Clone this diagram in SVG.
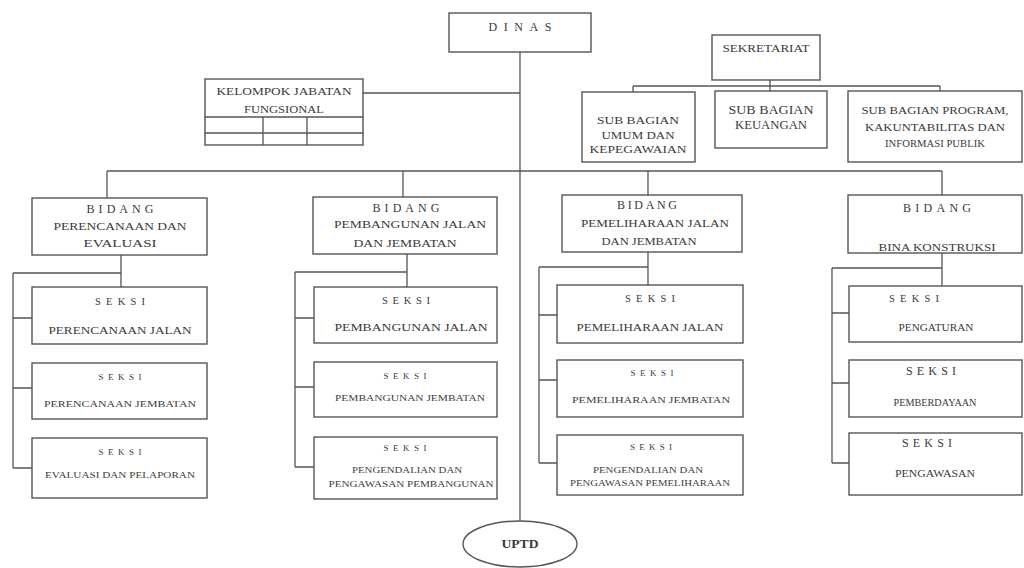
<svg xmlns="http://www.w3.org/2000/svg" width="1024" height="568" viewBox="0 0 1024 568">
<style>
.bx{fill:#fff;stroke:#555;stroke-width:1.4}
.ln{fill:none;stroke:#555;stroke-width:1.3}
text{font-family:"Liberation Serif","Times New Roman",serif;fill:#3a3a3a;text-anchor:middle;font-size:10.5px}
.h{font-size:12px}
.s{font-size:9px}
.b{font-weight:bold;font-size:12px}
</style>
<rect width="1024" height="568" fill="#fff"/>
<g id="connectors">
<path class="ln" d="M520 52V521M363 93H520"/>
<path class="ln" d="M770 80V86M633 86H940M633 86V92M770 86V91M940 86V91"/>
<path class="ln" d="M107 171H942M107 171V198M403 171V197M648 171V195M942 171V195"/>
<path class="ln" d="M121 255V287M13 273H121M13 273V468M13 318H32M13 388H32M13 468H32"/>
<path class="ln" d="M407 254V287M295 272H407M295 272V467M295 318H314M295 387H314M295 467H314"/>
<path class="ln" d="M648 252V285M539 267H648M539 267V463M539 315H557M539 380H557M539 463H557"/>
<path class="ln" d="M942 253V286M832 268H942M832 268V463M832 313H849M832 383H849M832 463H849"/>
</g>
<g id="dinas"><rect class="bx" x="449" y="13" width="142" height="39"/><text class="h" x="520" y="31" textLength="63" lengthAdjust="spacing">DINAS</text></g>
<g id="kelompok"><rect class="bx" x="205" y="79" width="158" height="66"/><path class="ln" d="M205 117H363M205 133H363M263 117V145M307 117V145"/>
<text x="284" y="95" textLength="135" lengthAdjust="spacingAndGlyphs">KELOMPOK JABATAN</text><text x="284" y="113" textLength="80" lengthAdjust="spacingAndGlyphs">FUNGSIONAL</text></g>
<g id="sekretariat"><rect class="bx" x="712" y="35" width="108" height="45"/><text x="766" y="52" textLength="87" lengthAdjust="spacingAndGlyphs">SEKRETARIAT</text></g>
<g id="sub-umum"><rect class="bx" x="582" y="92" width="113" height="70"/><text x="638" y="124" textLength="82" lengthAdjust="spacingAndGlyphs">SUB BAGIAN</text><text x="638" y="139" textLength="73" lengthAdjust="spacingAndGlyphs">UMUM DAN</text><text x="638" y="153" textLength="97" lengthAdjust="spacingAndGlyphs">KEPEGAWAIAN</text></g>
<g id="sub-keuangan"><rect class="bx" x="715" y="91" width="112" height="57"/><text class="h" x="771" y="114" textLength="85" lengthAdjust="spacingAndGlyphs">SUB BAGIAN</text><text class="h" x="771" y="129" textLength="72" lengthAdjust="spacingAndGlyphs">KEUANGAN</text></g>
<g id="sub-program"><rect class="bx" x="848" y="91" width="174" height="71"/><text x="935" y="114" textLength="147" lengthAdjust="spacingAndGlyphs">SUB BAGIAN PROGRAM,</text><text x="935" y="131" textLength="140" lengthAdjust="spacingAndGlyphs">KAKUNTABILITAS DAN</text><text x="935" y="147" textLength="100" lengthAdjust="spacingAndGlyphs">INFORMASI PUBLIK</text></g>
<g id="bidang-1"><rect class="bx" x="32" y="198" width="175" height="57"/><text class="h" x="120" y="213" textLength="67" lengthAdjust="spacing">BIDANG</text><text x="120" y="230" textLength="133" lengthAdjust="spacingAndGlyphs">PERENCANAAN DAN</text><text x="120" y="247" textLength="73" lengthAdjust="spacingAndGlyphs">EVALUASI</text></g>
<g id="seksi-1-1"><rect class="bx" x="32" y="287" width="175" height="57"/><text x="120" y="305" textLength="50" lengthAdjust="spacing">SEKSI</text><text x="120" y="334" textLength="143" lengthAdjust="spacingAndGlyphs">PERENCANAAN JALAN</text></g>
<g id="seksi-1-2"><rect class="bx" x="32" y="363" width="175" height="56"/><text class="s" x="120" y="380" textLength="43" lengthAdjust="spacing">SEKSI</text><text class="s" x="120" y="407" textLength="152" lengthAdjust="spacingAndGlyphs">PERENCANAAN JEMBATAN</text></g>
<g id="seksi-1-3"><rect class="bx" x="32" y="438" width="175" height="60"/><text class="s" x="120" y="455" textLength="43" lengthAdjust="spacing">SEKSI</text><text class="s" x="120" y="478" textLength="150" lengthAdjust="spacingAndGlyphs">EVALUASI DAN PELAPORAN</text></g>
<g id="bidang-2"><rect class="bx" x="313" y="197" width="184" height="57"/><text class="h" x="406" y="212" textLength="67" lengthAdjust="spacing">BIDANG</text><text x="410" y="228" textLength="152" lengthAdjust="spacingAndGlyphs">PEMBANGUNAN JALAN</text><text x="405" y="247" textLength="103" lengthAdjust="spacingAndGlyphs">DAN JEMBATAN</text></g>
<g id="seksi-2-1"><rect class="bx" x="314" y="287" width="183" height="56"/><text x="406" y="304" textLength="48" lengthAdjust="spacing">SEKSI</text><text x="411" y="331" textLength="153" lengthAdjust="spacingAndGlyphs">PEMBANGUNAN JALAN</text></g>
<g id="seksi-2-2"><rect class="bx" x="314" y="362" width="183" height="55"/><text class="s" x="405" y="379" textLength="43" lengthAdjust="spacing">SEKSI</text><text class="s" x="410" y="401" textLength="150" lengthAdjust="spacingAndGlyphs">PEMBANGUNAN JEMBATAN</text></g>
<g id="seksi-2-3"><rect class="bx" x="314" y="437" width="183" height="62"/><text class="s" x="405" y="451" textLength="43" lengthAdjust="spacing">SEKSI</text><text class="s" x="407" y="473" textLength="110" lengthAdjust="spacingAndGlyphs">PENGENDALIAN DAN</text><text class="s" x="411" y="487" textLength="165" lengthAdjust="spacingAndGlyphs">PENGAWASAN PEMBANGUNAN</text></g>
<g id="bidang-3"><rect class="bx" x="562" y="195" width="180" height="57"/><text class="h" x="647" y="209" textLength="60" lengthAdjust="spacing">BIDANG</text><text x="655" y="227" textLength="148" lengthAdjust="spacingAndGlyphs">PEMELIHARAAN JALAN</text><text x="649" y="245" textLength="95" lengthAdjust="spacingAndGlyphs">DAN JEMBATAN</text></g>
<g id="seksi-3-1"><rect class="bx" x="557" y="285" width="186" height="58"/><text x="650" y="302" textLength="50" lengthAdjust="spacing">SEKSI</text><text x="650" y="331" textLength="147" lengthAdjust="spacingAndGlyphs">PEMELIHARAAN JALAN</text></g>
<g id="seksi-3-2"><rect class="bx" x="557" y="360" width="186" height="57"/><text class="s" x="652" y="376" textLength="43" lengthAdjust="spacing">SEKSI</text><text class="s" x="651" y="403" textLength="158" lengthAdjust="spacingAndGlyphs">PEMELIHARAAN JEMBATAN</text></g>
<g id="seksi-3-3"><rect class="bx" x="557" y="435" width="186" height="60"/><text class="s" x="651" y="450" textLength="42" lengthAdjust="spacing">SEKSI</text><text class="s" x="648" y="473" textLength="110" lengthAdjust="spacingAndGlyphs">PENGENDALIAN DAN</text><text class="s" x="650" y="486" textLength="160" lengthAdjust="spacingAndGlyphs">PENGAWASAN PEMELIHARAAN</text></g>
<g id="bidang-4"><rect class="bx" x="848" y="195" width="174" height="58"/><text class="h" x="937" y="212" textLength="68" lengthAdjust="spacing">BIDANG</text><text x="937" y="251" textLength="117" lengthAdjust="spacingAndGlyphs">BINA KONSTRUKSI</text></g>
<g id="seksi-4-1"><rect class="bx" x="849" y="286" width="173" height="56"/><text x="914" y="302" textLength="50" lengthAdjust="spacing">SEKSI</text><text x="936" y="331" textLength="75" lengthAdjust="spacingAndGlyphs">PENGATURAN</text></g>
<g id="seksi-4-2"><rect class="bx" x="849" y="360" width="173" height="57"/><text class="h" x="931" y="375" textLength="50" lengthAdjust="spacing">SEKSI</text><text x="935" y="406" textLength="83" lengthAdjust="spacingAndGlyphs">PEMBERDAYAAN</text></g>
<g id="seksi-4-3"><rect class="bx" x="849" y="433" width="173" height="62"/><text class="h" x="927" y="447" textLength="50" lengthAdjust="spacing">SEKSI</text><text x="935" y="477" textLength="80" lengthAdjust="spacingAndGlyphs">PENGAWASAN</text></g>
<g id="uptd"><ellipse class="bx" cx="520" cy="544" rx="57" ry="23"/><text class="b" x="520" y="548" textLength="37" lengthAdjust="spacingAndGlyphs">UPTD</text></g>
</svg>
